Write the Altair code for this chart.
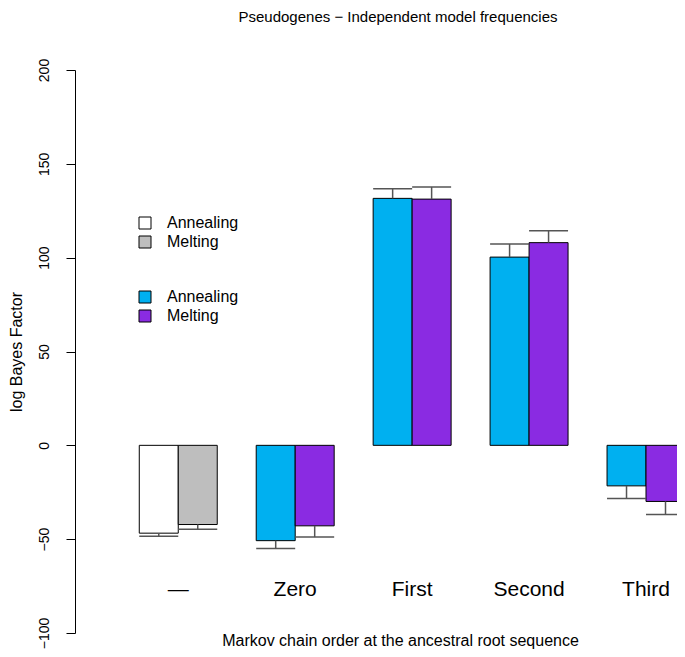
import altair as alt
import pandas as pd

groups = ["—", "Zero", "First", "Second", "Third"]
models = ["Annealing", "Melting"]
annealing = [-46.8, -50.8, 131.6, 100.3, -21.6]
melting = [-42.2, -42.9, 131.2, 108.0, -29.9]
annealing_err = [1.7, 4.2, 5.1, 7.0, 6.7]
melting_err = [2.5, 6.0, 6.5, 6.3, 6.9]
first_colors = ["#FFFFFF", "#BEBEBE"]
other_colors = ["#00B0F0", "#8A2BE2"]
y_ticks = [-100, -50, 0, 50, 100, 150, 200]

FONT = "Liberation Sans"

rows = []
for i, g in enumerate(groups):
    for j, (m, vals, errs) in enumerate(zip(models, [annealing, melting], [annealing_err, melting_err])):
        v = vals[i]
        e = errs[i]
        sign = 1 if v >= 0 else -1
        rows.append(dict(group=g, gi=i, model=m, x0=1 + 3 * i + j, x1=2 + 3 * i + j,
                         xc=1.5 + 3 * i + j, value=v, err=v + sign * e))
df = pd.DataFrame(rows)
lab = pd.DataFrame({"group": groups, "xc": [2 + 3 * i for i in range(len(groups))], "ylab": -77.1})

xs = alt.Scale(domain=[-0.649, 14.795], nice=False, zero=False)
ys = alt.Scale(domain=[-100, 200], nice=False, zero=False)

xaxis = alt.Axis(labels=False, ticks=False, domain=False, grid=False,
                 title="Markov chain order at the ancestral root sequence",
                 titleFont=FONT, titleFontSize=16, titleFontWeight="normal", titleColor="black",
                 titleX=325, titleY=12, titleBaseline="alphabetic", titleAlign="center")
yaxis = alt.Axis(values=y_ticks, grid=False, domainColor="black", tickColor="black",
                 tickSize=9, labelAngle=-90, labelAlign="center", labelBaseline="bottom",
                 labelPadding=15, labelFont=FONT, labelFontSize=14, labelColor="black",
                 title="log Bayes Factor", titleFont=FONT, titleFontSize=16,
                 titleFontWeight="normal", titleColor="black", titlePadding=13,
                 domainWidth=1, tickWidth=1, labelFlush=False, labelOverlap=False)


def leg(y):
    return alt.Legend(orient="none", legendX=62, legendY=y, title=None, symbolType="square",
                      symbolSize=144, symbolStrokeColor="black", symbolStrokeWidth=1,
                      labelFont=FONT, labelFontSize=16, labelColor="black", labelOffset=14,
                      rowPadding=3, padding=0, symbolOpacity=1)


def X(field):
    return alt.X(field, scale=xs, axis=xaxis)


def Y(field):
    return alt.Y(field, scale=ys, axis=yaxis)


bars0 = alt.Chart(df[df.gi == 0]).mark_rect(stroke="black", strokeWidth=1).encode(
    x=X("x0:Q"), x2="x1:Q", y=Y("value:Q"), y2=alt.datum(0),
    fill=alt.Fill("model:N", scale=alt.Scale(domain=models, range=first_colors), legend=leg(145)),
)

bars1 = alt.Chart(df[df.gi > 0]).mark_rect(stroke="black", strokeWidth=1).encode(
    x=X("x0:Q"), x2="x1:Q", y=Y("value:Q"), y2=alt.datum(0),
    fill=alt.Fill("model:N", scale=alt.Scale(domain=models, range=other_colors), legend=leg(219)),
)

errv = alt.Chart(df).mark_rule(color="#555555", strokeWidth=1.5).encode(
    x=X("xc:Q"), y=Y("value:Q"), y2="err:Q",
)
errc = alt.Chart(df).mark_rule(color="#555555", strokeWidth=1.5).encode(
    x=X("x0:Q"), x2="x1:Q", y=Y("err:Q"),
)
labels = alt.Chart(lab).mark_text(font=FONT, fontSize=21, color="black", baseline="middle").encode(
    x=X("xc:Q"), y=Y("ylab:Q"), text="group:N",
)

chart = alt.layer(bars0, bars1, errv, errc, labels).resolve_scale(fill="independent").properties(
    width=602, height=563,
    autosize=alt.AutoSizeParams(type="none"),
    padding={"left": 67, "top": 62, "right": 0, "bottom": 16},
    title=alt.TitleParams("Pseudogenes − Independent model frequencies", font=FONT, fontSize=15,
                          fontWeight="normal", color="black", anchor="middle", dx=22, offset=33),
).configure(background="white").configure_view(stroke=None)

chart.save("out.html", embed_options={"renderer": "svg", "actions": False})
